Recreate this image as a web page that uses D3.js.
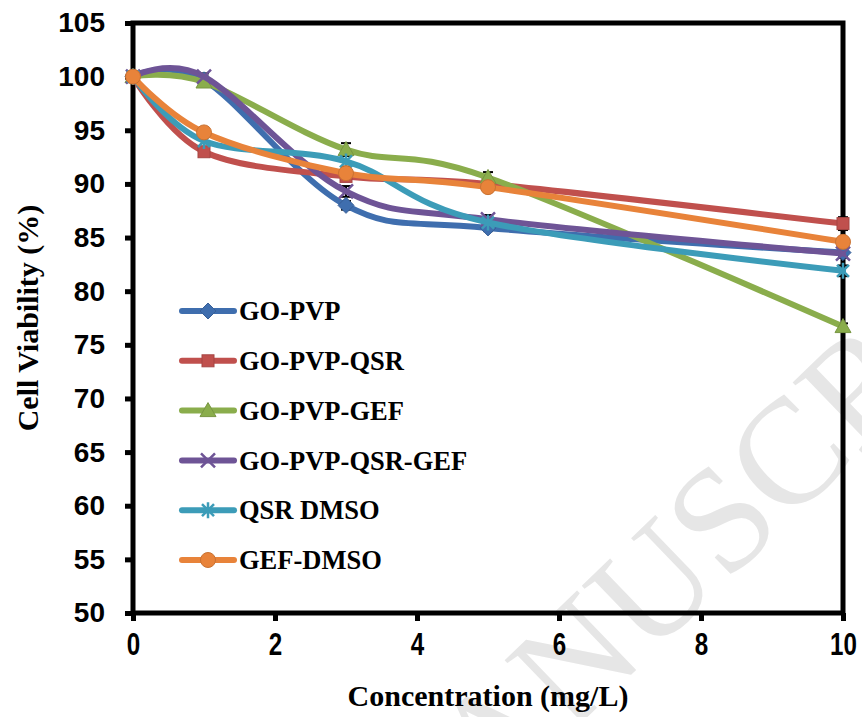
<!DOCTYPE html>
<html>
<head>
<meta charset="utf-8">
<script src="https://cdn.jsdelivr.net/npm/d3@7"></script>
<style>
  html, body { margin: 0; padding: 0; background: #fff; }
</style>
</head>
<body>
<div id="chart"></div>
<script>
// concentrations (mg/L) and cell viability (%) per formulation
const concentrations = [0, 1, 3, 5, 10];
const seriesNames = ['GO-PVP', 'GO-PVP-QSR', 'GO-PVP-GEF', 'GO-PVP-QSR-GEF', 'QSR DMSO', 'GEF-DMSO'];
const goPvp = [100, 99.7, 88.0, 85.9, 83.6];
const goPvpQsr = [100, 93.0, 90.7, 90.0, 86.3];
const goPvpGef = [100, 99.5, 93.2, 90.6, 76.7];
const goPvpQsrGef = [100, 100, 89.3, 86.7, 83.5];
const qsrDmso = [100, 94.0, 92.1, 86.4, 81.9];
const gefDmso = [100, 94.8, 91.0, 89.7, 84.6];
// error bar half-lengths
const goPvpErr = [0, 0.3, 0.4, 0.3, 0.3];
const goPvpQsrErr = [0, 0, 0, 0, 0.6];
const goPvpGefErr = [0, 0.3, 0.6, 0.5, 0.3];
const goPvpQsrGefErr = [0, 0.3, 0.5, 0.4, 0.4];
const qsrDmsoErr = [0, 0, 0.5, 0, 0.5];
const gefDmsoErr = [0, 0, 0, 0, 0];

const xTicks = [0, 2, 4, 6, 8, 10];
const yTicks = [50, 55, 60, 65, 70, 75, 80, 85, 90, 95, 100, 105];

const colors = ['#3f6eae', '#c0504d', '#8aad4c', '#6e5496', '#3c9cb8', '#e8833a'];
const shapes = ['diamond', 'square', 'triangle', 'cross', 'star', 'circle'];
const values = [goPvp, goPvpQsr, goPvpGef, goPvpQsrGef, qsrDmso, gefDmso];
const errs = [goPvpErr, goPvpQsrErr, goPvpGefErr, goPvpQsrGefErr, qsrDmsoErr, gefDmsoErr];

const width = 862;
const height = 717;
const margin = { left: 133, top: 23, right: 19, bottom: 104 };

const svg = d3.select('#chart')
  .append('svg')
  .attr('width', width)
  .attr('height', height);

// faint journal watermark behind the plot
svg.append('text')
  .attr('transform', 'translate(396,902) rotate(-44)')
  .attr('font-family', 'Liberation Serif, serif')
  .attr('font-size', 150)
  .attr('fill', '#e6e6e6')
  .text('MANUSCRIPT');

const x = d3.scaleLinear()
  .domain([0, 10])
  .range([margin.left, width - margin.right]);

const y = d3.scaleLinear()
  .domain([50, 105])
  .range([height - margin.bottom, margin.top]);

const yAxis = d3.axisLeft(y).tickValues(yTicks).tickSize(8).tickPadding(20);
const xAxis = d3.axisBottom(x).tickValues(xTicks).tickSize(8).tickPadding(12);

const gy = svg.append('g')
  .attr('transform', `translate(${margin.left},0)`)
  .call(yAxis);
gy.select('.domain').remove();
gy.selectAll('line').attr('stroke', '#000').attr('stroke-width', 5);
gy.selectAll('text')
  .attr('font-family', 'Liberation Sans, Arial, sans-serif')
  .attr('font-weight', 'bold')
  .attr('font-size', 28)
  .attr('fill', '#000');

const gx = svg.append('g')
  .attr('transform', `translate(0,${height - margin.bottom})`)
  .call(xAxis);
gx.select('.domain').remove();
gx.selectAll('line').attr('stroke', '#000').attr('stroke-width', 5);
gx.selectAll('text')
  .attr('font-family', 'Liberation Sans, Arial, sans-serif')
  .attr('font-weight', 'bold')
  .attr('font-size', 31)
  .attr('fill', '#000')
  .attr('transform', 'scale(0.78,1)');

// plot frame
svg.append('rect')
  .attr('x', x(0))
  .attr('y', y(105))
  .attr('width', x(10) - x(0))
  .attr('height', y(50) - y(105))
  .attr('fill', 'none')
  .attr('stroke', '#000')
  .attr('stroke-width', 5);

function marker(sel, shape, color) {
  const dark = d3.color(color).darker(0.4);
  if (shape === 'diamond') {
    sel.append('path').attr('d', 'M0,-8L8,0L0,8L-8,0Z')
      .attr('fill', color).attr('stroke', dark).attr('stroke-width', 1);
  } else if (shape === 'square') {
    sel.append('rect').attr('x', -6).attr('y', -6).attr('width', 12).attr('height', 12)
      .attr('fill', color).attr('stroke', dark).attr('stroke-width', 1);
  } else if (shape === 'triangle') {
    sel.append('path').attr('d', 'M0,-8L8,6L-8,6Z')
      .attr('fill', color).attr('stroke', dark).attr('stroke-width', 1);
  } else if (shape === 'cross') {
    sel.append('path').attr('d', 'M-7,-7L7,7M-7,7L7,-7')
      .attr('stroke', color).attr('stroke-width', 2.5);
  } else if (shape === 'star') {
    sel.append('path').attr('d', 'M-6,-6L6,6M-6,6L6,-6M0,-8L0,8')
      .attr('stroke', color).attr('stroke-width', 2.5);
  } else {
    sel.append('circle').attr('r', 7.5)
      .attr('fill', color).attr('stroke', dark).attr('stroke-width', 1);
  }
}

const line = d3.line()
  .x((d, i) => x(concentrations[i]))
  .y(d => y(d))
  .curve(d3.curveCatmullRom.alpha(0));

// error bars first, lines cover their middle
values.forEach((vals, s) => {
  const g = svg.append('g').attr('stroke', '#000').attr('stroke-width', 2);
  vals.forEach((v, i) => {
    const e = errs[s][i];
    if (!e) return;
    const cx = x(concentrations[i]);
    g.append('line').attr('x1', cx).attr('x2', cx).attr('y1', y(v - e)).attr('y2', y(v + e));
    g.append('line').attr('x1', cx - 5).attr('x2', cx + 5).attr('y1', y(v + e)).attr('y2', y(v + e));
    g.append('line').attr('x1', cx - 5).attr('x2', cx + 5).attr('y1', y(v - e)).attr('y2', y(v - e));
  });
});

values.forEach((vals, s) => {
  svg.append('path')
    .datum(vals)
    .attr('fill', 'none')
    .attr('stroke', colors[s])
    .attr('stroke-width', 6)
    .attr('stroke-linecap', 'round')
    .attr('d', line);

  svg.append('g')
    .selectAll('g')
    .data(vals)
    .enter().append('g')
      .attr('transform', (d, i) => `translate(${x(concentrations[i])},${y(d)})`)
      .each(function () { marker(d3.select(this), shapes[s], colors[s]); });
});

// legend
const legend = svg.append('g');
seriesNames.forEach((name, s) => {
  const ly = 311 + s * 49.8;
  legend.append('line')
    .attr('x1', 182).attr('x2', 234)
    .attr('y1', ly).attr('y2', ly)
    .attr('stroke', colors[s])
    .attr('stroke-width', 6)
    .attr('stroke-linecap', 'round');
  marker(legend.append('g').attr('transform', `translate(208,${ly})`), shapes[s], colors[s]);
  legend.append('text')
    .attr('x', 239)
    .attr('y', ly)
    .attr('dy', '0.35em')
    .attr('font-family', 'Liberation Serif, Times New Roman, serif')
    .attr('font-weight', 'bold')
    .attr('font-size', 26.5)
    .text(name);
});

// axis titles
svg.append('text')
  .attr('transform', `translate(38,${(y(50) + y(105)) / 2}) rotate(-90)`)
  .attr('text-anchor', 'middle')
  .attr('font-family', 'Liberation Serif, Times New Roman, serif')
  .attr('font-weight', 'bold')
  .attr('font-size', 30)
  .text('Cell Viability (%)');

svg.append('text')
  .attr('x', (x(0) + x(10)) / 2)
  .attr('y', 706)
  .attr('text-anchor', 'middle')
  .attr('font-family', 'Liberation Serif, Times New Roman, serif')
  .attr('font-weight', 'bold')
  .attr('font-size', 30)
  .text('Concentration (mg/L)');
</script>
</body>
</html>
